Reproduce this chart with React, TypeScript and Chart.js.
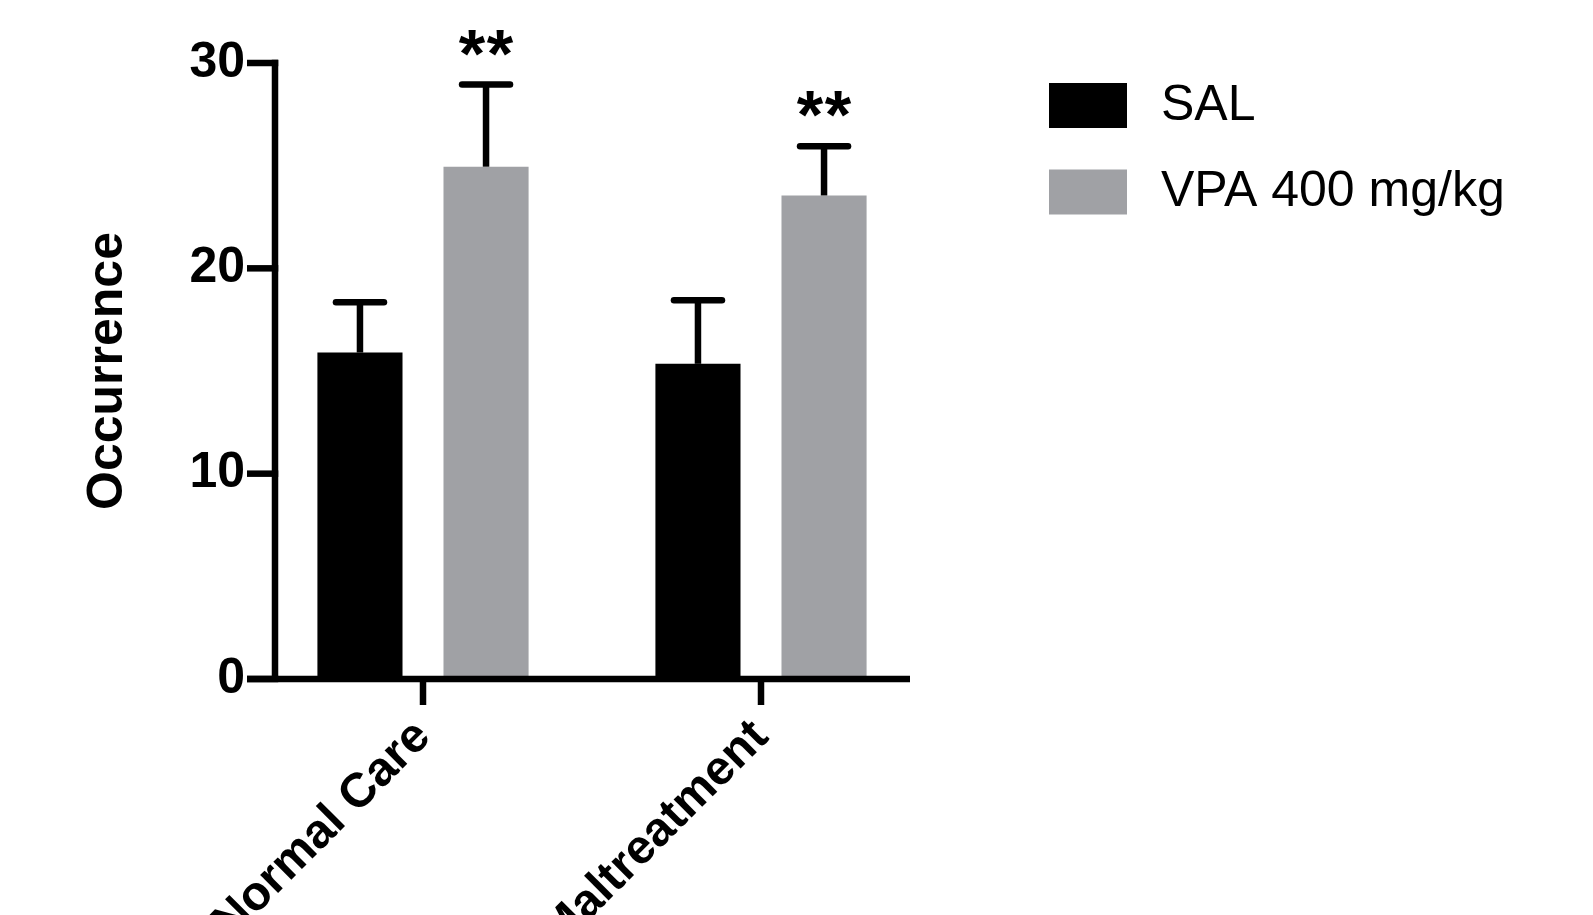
import React, { useEffect, useRef } from 'react';
import { Chart, registerables } from 'chart.js';

Chart.register(...registerables);

// ---- data ----
const categories = ['Normal Care', 'Maltreatment'];
const seriesNames = ['SAL', 'VPA 400 mg/kg'];
const salMeans = [15.9, 15.35];
const salErrors = [2.45, 3.1];
const vpaMeans = [24.95, 23.55];
const vpaErrors = [4.0, 2.4];
const vpaMarks = ['**', '**'];
const yTicks = [0, 10, 20, 30];
const yTitle = 'Occurrence';

// ---- styles ----
const FONT = '"Liberation Sans", Arial, Helvetica, sans-serif';
const BLACK = '#000000';
const GREY = '#a0a1a5';
const LINE_W = 6.5;

const errorsBySeries = [salErrors, vpaErrors];
const marksBySeries: (string[] | null)[] = [null, vpaMarks];

const prismPlugin = {
  id: 'prismDecor',
  afterDatasetsDraw(chart: any) {
    const ctx = chart.ctx as CanvasRenderingContext2D;
    const xs = chart.scales.x;
    const ys = chart.scales.y;
    const area = chart.chartArea;
    ctx.save();
    ctx.strokeStyle = BLACK;
    ctx.fillStyle = BLACK;

    // error bars + significance marks
    chart.data.datasets.forEach((ds: any, di: number) => {
      const meta = chart.getDatasetMeta(di);
      const errs = errorsBySeries[di];
      const marks = marksBySeries[di];
      meta.data.forEach((bar: any, i: number) => {
        const v = ds.data[i];
        const top = ys.getPixelForValue(v + errs[i]);
        ctx.lineWidth = LINE_W;
        ctx.lineCap = 'butt';
        ctx.beginPath();
        ctx.moveTo(bar.x, bar.y);
        ctx.lineTo(bar.x, top);
        ctx.stroke();
        ctx.lineCap = 'round';
        ctx.beginPath();
        ctx.moveTo(bar.x - 24, top);
        ctx.lineTo(bar.x + 24, top);
        ctx.stroke();
        if (marks && marks[i]) {
          ctx.font = `bold 68px ${FONT}`;
          ctx.textAlign = 'center';
          ctx.textBaseline = 'alphabetic';
          const chars = marks[i].split('');
          const gap = 28;
          const start = bar.x - ((chars.length - 1) * gap) / 2;
          chars.forEach((c, k) => ctx.fillText(c, start + k * gap, top - 8));
        }
      });
    });

    // axes
    ctx.lineCap = 'butt';
    ctx.lineWidth = LINE_W;
    const axisX = area.left + 21;
    const zeroY = ys.getPixelForValue(0);
    const topY = ys.getPixelForValue(yTicks[yTicks.length - 1]);
    ctx.beginPath();
    ctx.moveTo(axisX, topY - LINE_W / 2);
    ctx.lineTo(axisX, zeroY);
    ctx.stroke();
    yTicks.forEach((t) => {
      const py = ys.getPixelForValue(t);
      ctx.beginPath();
      ctx.moveTo(area.left - 7, py);
      ctx.lineTo(axisX + LINE_W / 2, py);
      ctx.stroke();
    });
    ctx.beginPath();
    ctx.moveTo(area.left - 7, zeroY);
    ctx.lineTo(area.right - 20, zeroY);
    ctx.stroke();
    categories.forEach((_, i) => {
      const px = xs.getPixelForTick(i);
      ctx.beginPath();
      ctx.moveTo(px, zeroY);
      ctx.lineTo(px, zeroY + 26);
      ctx.stroke();
    });

    // legend
    const lx = 1049;
    const ly = 83;
    const rowGap = 86.5;
    chart.data.datasets.forEach((ds: any, di: number) => {
      const y0 = ly + di * rowGap;
      ctx.fillStyle = ds.backgroundColor;
      ctx.fillRect(lx, y0, 78, 45);
      ctx.fillStyle = BLACK;
      ctx.font = `50px ${FONT}`;
      ctx.textAlign = 'left';
      ctx.textBaseline = 'middle';
      ctx.fillText(ds.label, lx + 112, y0 + 23);
    });
    ctx.restore();
  },
};

export default function App() {
  const canvasRef = useRef<HTMLCanvasElement | null>(null);

  useEffect(() => {
    document.body.style.margin = '0';
    const canvas = canvasRef.current;
    if (!canvas) return;
    const chart = new Chart(canvas, {
      type: 'bar',
      data: {
        labels: categories,
        datasets: [
          {
            label: seriesNames[0],
            data: salMeans,
            backgroundColor: BLACK,
            borderWidth: 0,
            categoryPercentage: 0.746,
            barPercentage: 0.675,
          },
          {
            label: seriesNames[1],
            data: vpaMeans,
            backgroundColor: GREY,
            borderWidth: 0,
            categoryPercentage: 0.746,
            barPercentage: 0.675,
          },
        ],
      },
      options: {
        responsive: false,
        maintainAspectRatio: false,
        animation: false,
        layout: { padding: { left: 0, top: 63, right: 663, bottom: 0 } },
        plugins: {
          legend: { display: false },
          tooltip: { enabled: false },
        },
        scales: {
          x: {
            type: 'category',
            offset: true,
            grid: { display: false, drawTicks: false },
            border: { display: false },
            ticks: {
              color: BLACK,
              font: { family: FONT, size: 48, weight: 'bold' },
              minRotation: 45,
              maxRotation: 45,
              padding: 30,
              autoSkip: false,
            },
            afterFit: (s: any) => {
              s.height = 236;
            },
          },
          y: {
            type: 'linear',
            min: yTicks[0],
            max: yTicks[yTicks.length - 1],
            grid: { display: false, drawTicks: false },
            border: { display: false },
            afterBuildTicks: (s: any) => {
              s.ticks = yTicks.map((v) => ({ value: v }));
            },
            ticks: {
              color: BLACK,
              font: { family: FONT, size: 50, weight: 'bold' },
              padding: 9,
            },
            title: {
              display: true,
              text: yTitle,
              color: BLACK,
              font: { family: FONT, size: 50, weight: 'bold' },
              padding: { top: 78, bottom: 0 },
            },
            afterFit: (s: any) => {
              s.width = 254;
            },
          },
        },
      } as any,
      plugins: [prismPlugin],
    });
    return () => chart.destroy();
  }, []);

  return (
    <div style={{ position: 'absolute', left: 0, top: 0, width: 1593, height: 915, background: '#fff' }}>
      <canvas ref={canvasRef} width={1593} height={915} style={{ display: 'block' }} />
    </div>
  );
}
